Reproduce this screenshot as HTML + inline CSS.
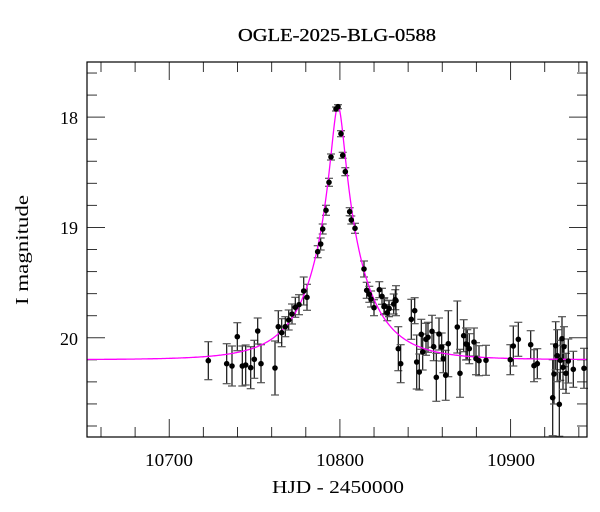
<!DOCTYPE html>
<html><head><meta charset="utf-8"><style>
html,body{margin:0;padding:0;background:#fff;}
svg{display:block;font-family:"Liberation Serif",serif;}
</style></head><body>
<svg id="s" width="600" height="512" xmlns="http://www.w3.org/2000/svg">
<text x="238" y="41" font-size="18" textLength="198" lengthAdjust="spacingAndGlyphs" stroke="#000" stroke-width="0.3">OGLE-2025-BLG-0588</text>
<text x="145" y="466" font-size="18" textLength="48" lengthAdjust="spacingAndGlyphs">10700</text>
<text x="316" y="466" font-size="18" textLength="48" lengthAdjust="spacingAndGlyphs">10800</text>
<text x="487" y="466" font-size="18" textLength="48" lengthAdjust="spacingAndGlyphs">10900</text>
<text x="272" y="493" font-size="18" textLength="132" lengthAdjust="spacingAndGlyphs">HJD - 2450000</text>
<text x="78" y="124" font-size="18" text-anchor="end">18</text>
<text x="78" y="234" font-size="18" text-anchor="end">19</text>
<text x="78" y="345" font-size="18" text-anchor="end">20</text>
<text transform="translate(28,305) rotate(-90)" font-size="18" textLength="110" lengthAdjust="spacingAndGlyphs">I magnitude</text>
<g id="g"></g>
</svg>
<script>
var g=document.getElementById('g'),o='';
var L=87,R=587,T=62,B=437;
function px(t){return L+(t-10651.8)*1.7065;}
function py(m){return T+(m-17.5)*110.3;}
for(var t=10660;t<=10940;t+=20){var x=px(t),len=((t%100)==0)?18:10;
o+='<line x1="'+x+'" y1="'+B+'" x2="'+x+'" y2="'+(B-len)+'" stroke="#333" stroke-width="1"/>';
o+='<line x1="'+x+'" y1="'+T+'" x2="'+x+'" y2="'+(T+len)+'" stroke="#333" stroke-width="1"/>';}
for(var k=0;k<=16;k++){var m=17.6+k*0.2,y=py(m),len=(Math.abs(m-Math.round(m))<0.01)?18:10;
o+='<line x1="'+L+'" y1="'+y+'" x2="'+(L+len)+'" y2="'+y+'" stroke="#333" stroke-width="1"/>';
o+='<line x1="'+R+'" y1="'+y+'" x2="'+(R-len)+'" y2="'+y+'" stroke="#333" stroke-width="1"/>';}
var d='';
for(var x=L;x<=R;x+=0.5){var t=10651.8+(x-L)/1.7065;var tau=(t-10798.9)/30,u0=0.121;var u=Math.sqrt(tau*tau+u0*u0);
var A=(u*u+2)/(u*Math.sqrt(u*u+4));var m=20.2-2.5*Math.log10(A);d+=(d?'L':'M')+x.toFixed(1)+','+py(m).toFixed(1);}
var pts=[[208.3,360.7,19],[226.7,363.7,20],[232,366,20],[237.3,336.7,14],[242.3,366,20],[245.7,365,20],[250.7,367.7,21],[254.3,359.3,19],[257.7,331,13],[261,363.7,19],[275,368,27],[278.3,326.7,16],[281.7,332.7,14],[285.3,326.7,10],[288.7,320,10],[292,314,10],[295.3,307.3,10],[299,304.7,10],[303.7,291,14],[307,297.3,13],
[317.7,251.7,6],[320.7,244,6],[322.7,229,5],[326,210.3,5],[329,182.3,4],[331,157,3],[336,109,2],[338,106.7,2],[341,133.7,3],[342.7,155.3,3],[345.3,171.7,4],[349.7,211.7,4],[351.3,220,4],[355,228.3,5],[364,269,8],[366.7,290.3,8],[369.3,294.3,8],[371,299,8],[374,307.7,8],[379.3,289.7,8],[382,296.3,8],[384.3,305.7,8],[389,308.3,8],[395.3,299.7,10],
[384,306.7,8],[387.3,312.7,8],[389,308.7,8],[393.7,304,10],[396,300.7,15],[398.3,348.7,22],[400.7,363.7,19],[411.3,319.3,20],[414.7,310.7,13],[416.7,362,27],[419.3,372,18],[421.3,334.3,15],[422.7,352,18],[426,339.3,16],[428,337.3,15],[432,331.3,16],[433.7,346.7,14],[436.3,377.3,24],[439,334,16],[441.7,347,14],[443.3,358.7,14],[445.7,375.3,25],[448.3,343.7,33],[457.3,327,26],[460,373.3,24],[463.7,335.7,16],[466,344,16],[467.3,344.7,15],[469.3,348.7,15],[474,342,14],[476,358.7,16],[479,360.7,15],[486,360.3,15],[510.3,359.7,15],[513.3,346,20],[518.3,339.3,17],[530.7,344.7,14],[534,365.7,16],[537.3,363.7,15],[552.7,397.7,38],[554,374,30],[555.7,345.7,24],[557.3,355.7,26],[559.3,404.3,32],[560.3,360.3,20],[562,338.7,22],[563,367.3,22],[564,346.7,20],[566,373.3,20],[568.3,361,22],[573.3,369.3,18],[584,368.3,20]];
pts.forEach(function(p){var x=p[0],y=p[1],e=p[2];
o+='<line x1="'+x+'" y1="'+(y-e)+'" x2="'+x+'" y2="'+(y+e)+'" stroke="#111" stroke-width="1.2"/>';
o+='<line x1="'+(x-4)+'" y1="'+(y-e)+'" x2="'+(x+4)+'" y2="'+(y-e)+'" stroke="#555" stroke-width="1.2"/>';
o+='<line x1="'+(x-4)+'" y1="'+(y+e)+'" x2="'+(x+4)+'" y2="'+(y+e)+'" stroke="#555" stroke-width="1.2"/>';});
o+='<path d="'+d+'" fill="none" stroke="#ff00ff" stroke-width="1.3"/>';
pts.forEach(function(p){o+='<circle cx="'+p[0]+'" cy="'+p[1]+'" r="2.8" fill="#000"/>';});
o+='<rect x="'+L+'" y="'+T+'" width="'+(R-L)+'" height="'+(B-T)+'" fill="none" stroke="#000" stroke-width="1.2"/>';
g.innerHTML=o;
</script>
</body></html>
